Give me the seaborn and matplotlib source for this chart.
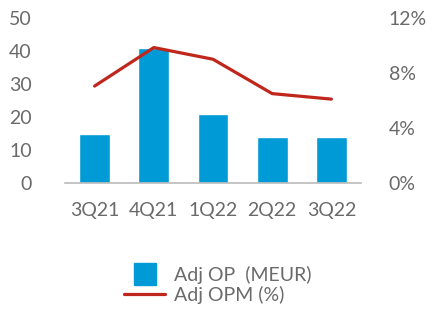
import matplotlib
matplotlib.use("Agg")
import matplotlib.pyplot as plt
import seaborn as sns
import pandas as pd
from matplotlib.lines import Line2D

quarters = ["3Q21", "4Q21", "1Q22", "2Q22", "3Q22"]
adj_op = [15, 41, 21, 14, 14]
adj_opm = [7.05, 9.85, 9.0, 6.5, 6.1]

sns.set_style("white")
plt.rcParams["font.family"] = ["Lato", "DejaVu Sans"]
grey = "#6a6a6a"
blue = "#009AD7"
red = "#C0271C"

df = pd.DataFrame({"quarter": quarters, "op": adj_op, "opm": adj_opm})

fig = plt.figure(figsize=(4.33, 3.11), dpi=100)
ax = fig.add_axes([65 / 433, 1 - 183 / 311, 296 / 433, 165 / 311])
sns.barplot(data=df, x="quarter", y="op", color=blue, width=0.52,
            saturation=1, ax=ax)
ax.set_ylim(0, 50)
ax.set_xlim(-0.5, 4.5)
ax.set_yticks(range(0, 51, 10))
ax.set_xlabel("")
ax.set_ylabel("")
for s in ["top", "right", "left"]:
    ax.spines[s].set_visible(False)
ax.spines["bottom"].set_color("#bbbbbb")
ax.spines["bottom"].set_linewidth(1.2)
ax.tick_params(axis="y", length=0, pad=24, labelsize=14, labelcolor=grey)
ax.tick_params(axis="x", length=0, pad=14, labelsize=14, labelcolor=grey)

ax2 = ax.twinx()
sns.lineplot(data=df, x="quarter", y="opm", color=red, linewidth=2.3,
             ax=ax2, sort=False)
ax2.set_ylim(0, 12)
ax2.set_yticks([0, 4, 8, 12])
ax2.set_yticklabels(["0%", "4%", "8%", "12%"])
ax2.set_ylabel("")
for s in ["top", "right", "left", "bottom"]:
    ax2.spines[s].set_visible(False)
ax2.tick_params(axis="y", length=0, pad=20, labelsize=14, labelcolor=grey)

handles = [Line2D([], [], marker="s", markersize=16.5, linestyle="none",
                  color=blue),
           Line2D([], [], color=red, linewidth=2.3)]
fig.legend(handles, ["Adj OP  (MEUR)", "Adj OPM (%)"], loc="center",
           bbox_to_anchor=(218 / 433, 1 - 285 / 311), frameon=False,
           fontsize=14, labelcolor=grey, handlelength=2.1,
           handletextpad=0.45, labelspacing=0.1)

fig.savefig("out.png", dpi=100)
